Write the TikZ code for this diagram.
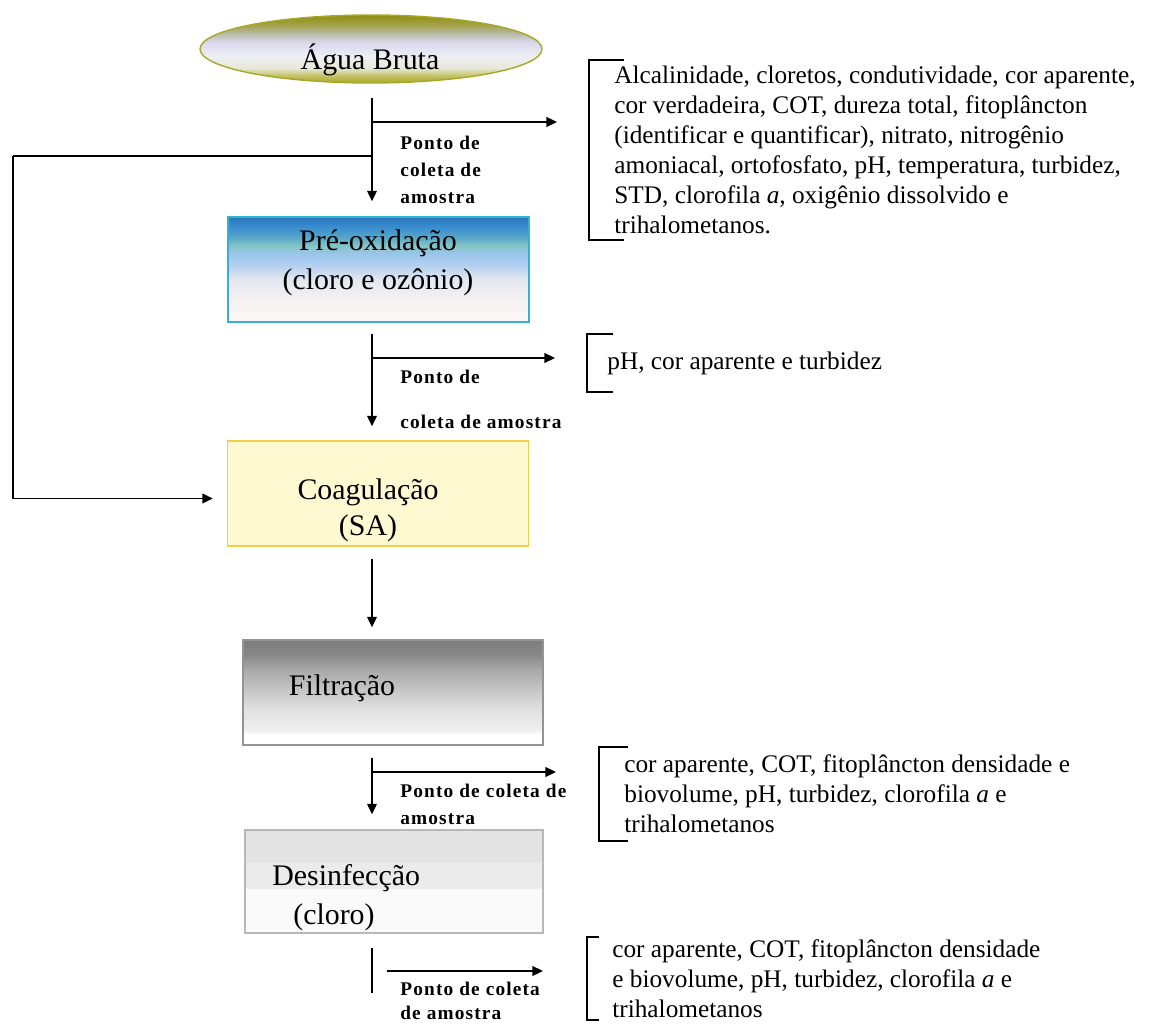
\documentclass[tikz,border=0pt]{standalone}
\usepackage{fontspec}
\setmainfont{Liberation Serif}
\newfontfamily\tapfont{Liberation Serif}[LetterSpace=6.0]
\usetikzlibrary{shapes.geometric,arrows.meta}

\definecolor{bruOlive}{HTML}{8E8E12}
\definecolor{bruMoss}{HTML}{A2A246}
\definecolor{bruKhaki}{HTML}{B6B69E}
\definecolor{bruLilac}{HTML}{D8D8EC}
\definecolor{bruMist}{HTML}{EEEEF6}
\definecolor{bruPale}{HTML}{E8E8D8}
\definecolor{bruLow}{HTML}{C0C060}
\definecolor{bruEdge}{HTML}{A8A828}
\definecolor{preTop}{HTML}{2A78BC}
\definecolor{preBlue}{HTML}{3A8FD0}
\definecolor{preCyan}{HTML}{5AA8C8}
\definecolor{preTeal}{HTML}{84C4C4}
\definecolor{preSky}{HTML}{9CC6EE}
\definecolor{preIce}{HTML}{B4D0F0}
\definecolor{preMist}{HTML}{E4E8F0}
\definecolor{preWhite}{HTML}{F6F2F2}
\definecolor{preEdge}{HTML}{38B0D0}
\definecolor{coagFill}{HTML}{FFF9D2}
\definecolor{coagEdge}{HTML}{F0D048}

\pgfdeclareverticalshading{brutashade}{100bp}{color(0bp)=(bruEdge); color(25bp)=(bruEdge);
  color(30bp)=(bruLow); color(36bp)=(bruPale); color(45bp)=(bruMist); color(55bp)=(bruLilac);
  color(62bp)=(bruKhaki); color(68bp)=(bruMoss); color(75bp)=(bruOlive); color(100bp)=(bruOlive)}
\pgfdeclareverticalshading{preshade}{100bp}{color(0bp)=(white); color(25bp)=(white!50!preWhite);
  color(35bp)=(preWhite); color(45bp)=(preMist); color(52bp)=(preIce); color(57bp)=(preSky);
  color(61.5bp)=(preTeal); color(65bp)=(preCyan); color(70bp)=(preBlue); color(75bp)=(preTop);
  color(100bp)=(preTop)}
\pgfdeclareverticalshading{filtshade}{100bp}{color(0bp)=(white); color(25bp)=(white);
  color(30bp)=(white); color(32bp)=(black!6); color(42bp)=(black!12); color(51bp)=(black!22);
  color(61bp)=(black!34); color(68bp)=(black!47); color(75bp)=(black!51); color(100bp)=(black!51)}
\pgfdeclareverticalshading{desinfshade}{100bp}{color(0bp)=(black!2); color(25bp)=(black!2);
  color(46.3bp)=(black!2); color(46.8bp)=(black!8); color(59bp)=(black!8);
  color(59.5bp)=(black!11); color(75bp)=(black!11); color(100bp)=(black!11)}

\tikzset{
  stage/.style={rectangle, minimum width=6.02cm, minimum height=2.1cm, inner sep=0pt, line width=0.8pt},
  stagetext/.style={font=\fontsize{17}{22}\selectfont, align=center, inner sep=0pt},
  params/.style={font=\fontsize{14.4}{17}\selectfont, align=left, anchor=west, inner xsep=0.5cm, inner ysep=0pt},
  taplabel/.style={font=\tapfont\bfseries\fontsize{11}{15.3}\selectfont, align=left, anchor=west, inner sep=0pt},
  flow/.style={line width=1pt, -{Triangle[length=6pt,width=5.5pt]}},
  bracket/.style={line width=1pt}
}

\begin{document}
\begin{tikzpicture}[x=0.02cm, y=-0.02cm]
  \useasboundingbox (0,0) rectangle (1163,1026);

  % stages
  \node[ellipse, draw=bruEdge, line width=0.8pt, shade, shading=brutashade,
        minimum width=6.84cm, minimum height=1.36cm, inner sep=0pt] (bruta) at (371,49) {};
  \node[stagetext] (brutatxt) at (370,60) {Água Bruta};
  \node[stage, draw=preEdge, shade, shading=preshade] (preox) at (378.5,269.5) {};
  \node[stagetext] (preoxtxt) at (378,262.5) {Pré-oxidação\\(cloro e ozônio)};
  \node[stage, draw=coagEdge, fill=coagFill] (coag) at (378,493.5) {};
  \node[stagetext] (coagtxt) at (368,510) {Coagulação\\[-1.6pt](SA)};
  \node[stage, minimum width=6cm, draw=black!42, shade, shading=filtshade] (filt) at (393,692.5) {};
  \node[stagetext] (filttxt) at (342,688) {Filtração};
  \node[stage, minimum width=5.96cm, minimum height=2.06cm, draw=black!28, shade, shading=desinfshade] (desinf) at (394,881.5) {};
  \node[stagetext, align=left, anchor=west] (desinftxt) at (272,897.5) {Desinfecção\\\hspace{0.42cm}(cloro)};

  % sampling parameters
  \node[params, minimum height=3.6cm] (par1) at (589,150)
    {Alcalinidade, cloretos, condutividade, cor aparente,\\
     cor verdadeira, COT, dureza total, fitoplâncton\\
     (identificar e quantificar), nitrato, nitrogênio\\
     amoniacal, ortofosfato, pH, temperatura, turbidez,\\
     STD, clorofila \textit{a}, oxigênio dissolvido e\\
     trihalometanos.};
  \node[params, inner xsep=0.4cm, minimum height=1.16cm] (par2) at (587,363)
    {pH, cor aparente e turbidez};
  \node[params, minimum height=1.88cm] (par3) at (599,794)
    {cor aparente, COT, fitoplâncton densidade e\\
     biovolume, pH, turbidez, clorofila \textit{a} e\\
     trihalometanos};
  \node[params, minimum height=1.66cm] (par4) at (587,978.5)
    {cor aparente, COT, fitoplâncton densidade\\
     e biovolume, pH, turbidez, clorofila \textit{a} e\\
     trihalometanos};
  \foreach \p/\t in {par1/0.7cm, par2/0.52cm, par3/0.58cm, par4/0.24cm}
    \draw[bracket] ([xshift=\t]\p.north west) -- (\p.north west) -- (\p.south west) -- ([xshift=\t]\p.south west);

  % sampling points
  \coordinate (tap1) at (372,122);
  \coordinate (fb) at (372,156);
  \coordinate (fbcorner) at (13,156);
  \coordinate (tap2) at (372,358);
  \coordinate (tap3) at (372,772);
  \coordinate (tap4) at (387,971);
  \coordinate (stub) at (372,993);

  \node[taplabel] (lab1) at (400,170) {Ponto de\\coleta de\\amostra};
  \node[taplabel] (lab2) at (400,399.5) {Ponto de\\[10pt]coleta de amostra};
  \node[taplabel] (lab3) at (400,804.5) {Ponto de coleta de\\amostra};
  \node[taplabel] (lab4) at (400,1001) {Ponto de coleta\\[-1.5pt]de amostra};

  % flow
  \draw[flow, shorten <=0.28cm, shorten >=0.3cm] (bruta.south -| tap1) -- (preox.north -| tap1);
  \draw[flow, shorten <=0.22cm, shorten >=0.28cm] (preox.south -| tap2) -- (coag.north -| tap2);
  \draw[flow, shorten <=0.24cm, shorten >=0.24cm] (coag.south -| tap2) -- (filt.north -| tap2);
  \draw[flow, shorten <=0.24cm, shorten >=0.3cm] (filt.south -| tap3) -- (desinf.north -| tap3);
  \draw[line width=1pt, shorten <=0.28cm] (desinf.south -| stub) -- (stub);
  \draw[line width=1pt] (fb) -- (fbcorner);
  \draw[flow, shorten >=0.28cm] (fbcorner) |- ([yshift=-0.1cm]coag.west);

  \draw[flow, shorten >=0.64cm] (tap1) -- (tap1 -| par1.west);
  \draw[flow, shorten >=0.64cm] (tap2) -- (tap2 -| par2.west);
  \draw[flow, shorten >=0.86cm] (tap3) -- (tap3 -| par3.west);
  \draw[flow, shorten >=0.88cm] (tap4) -- (tap4 -| par4.west);
\end{tikzpicture}
\end{document}
